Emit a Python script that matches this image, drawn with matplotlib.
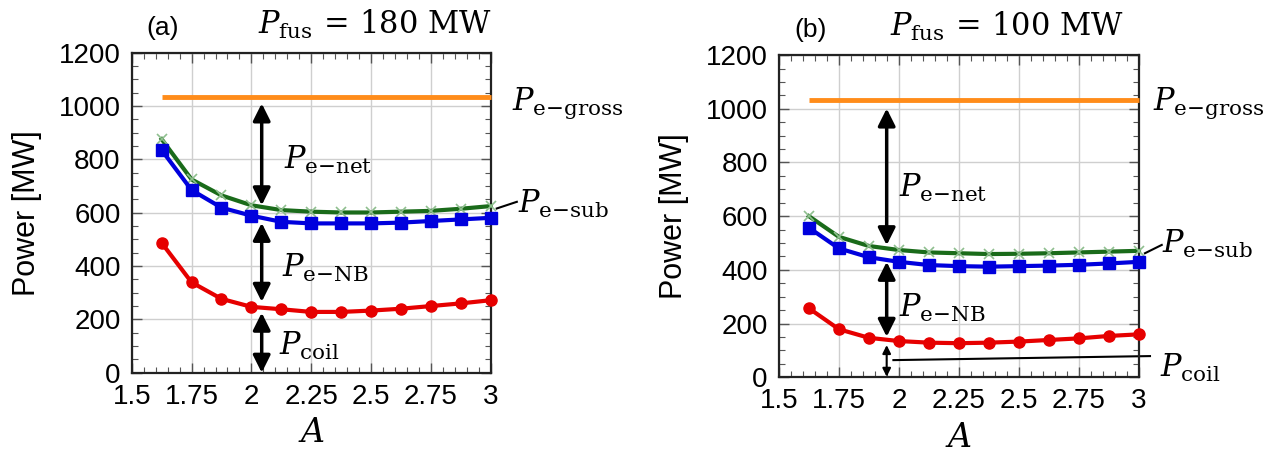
#!/usr/bin/env python3
"""Power balance vs aspect ratio A for two fusion powers."""

import numpy as np
import matplotlib
matplotlib.use("Agg")
import matplotlib.pyplot as plt
from matplotlib.ticker import MultipleLocator

plt.rcParams["font.family"] = ["Liberation Sans", "DejaVu Sans"]
plt.rcParams["mathtext.fontset"] = "dejavuserif"

A_VALUES = [1.625, 1.75, 1.875, 2.0, 2.125, 2.25, 2.375, 2.5, 2.625, 2.75, 2.875, 3.0]

# panel (a): P_fus = 180 MW
GROSS_A = 1035
SUB_A = [876, 725, 665, 628, 610, 604, 601, 601, 604, 607, 615, 625]
NB_A = [835, 685, 619, 589, 566, 560, 560, 560, 563, 569, 575, 581]
COIL_A = [487, 339, 277, 247, 238, 228, 228, 233, 240, 250, 260, 272]

# panel (b): P_fus = 100 MW
GROSS_B = 1032
SUB_B = [600, 523, 489, 474, 465, 462, 459, 460, 462, 465, 468, 471]
NB_B = [557, 480, 447, 430, 418, 414, 412, 414, 416, 419, 424, 430]
COIL_B = [257, 179, 147, 135, 129, 127, 129, 133, 139, 145, 154, 160]

TITLES = ["(a)", "(b)"]
FUS_LABELS = [r"$P_{\mathrm{fus}}\,=\,180\ \mathrm{MW}$", r"$P_{\mathrm{fus}}\,=\,100\ \mathrm{MW}$"]

C_GROSS = "#ff8c1a"
C_SUB = "#1a6b1a"
C_NB = "#0000dd"
C_COIL = "#e60000"


def lab(name):
    return r"$P_{\mathrm{" + name + r"}}$"


def setup_axes(ax):
    ax.set_xlim(1.5, 3.0)
    ax.set_ylim(0, 1200)
    ax.xaxis.set_minor_locator(MultipleLocator(0.05))
    ax.yaxis.set_major_locator(MultipleLocator(200))
    ax.yaxis.set_minor_locator(MultipleLocator(50))
    ticks = [1.5, 1.75, 2.0, 2.25, 2.5, 2.75, 3.0]
    ax.set_xticks(ticks)
    ax.set_xticklabels(["1.5", "1.75", "2", "2.25", "2.5", "2.75", "3"])
    ax.tick_params(which="both", direction="in", top=True, right=True,
                   labelsize=20, color="#555555")
    ax.tick_params(which="major", length=7, width=1.0)
    ax.tick_params(which="minor", length=4, width=0.8)
    ax.tick_params(axis="y", pad=8)
    ax.tick_params(axis="x", pad=8)
    ax.grid(which="major", color="#cfcfcf", linewidth=1.0)
    for s in ax.spines.values():
        s.set_linewidth(1.6)
        s.set_color("#222222")
    ax.set_axisbelow(True)
    ax.set_ylabel("Power [MW]", fontsize=22, labelpad=12)
    ax.set_xlabel(r"$A$", fontsize=24, labelpad=6)


def draw_series(ax, gross, sub, nb, coil):
    ax.plot(A_VALUES, np.full(len(A_VALUES), gross), color=C_GROSS, lw=3.5,
            solid_capstyle="butt", clip_on=False, zorder=3)
    ax.plot(A_VALUES, sub, color=C_SUB, lw=3.0, marker="x", markersize=7,
            markeredgecolor="#8fbf8f", markeredgewidth=1.2, clip_on=False, zorder=4)
    ax.plot(A_VALUES, nb, color=C_NB, lw=3.0, marker="s", markersize=8.5,
            clip_on=False, zorder=4)
    ax.plot(A_VALUES, coil, color=C_COIL, lw=3.0, marker="o", markersize=8,
            clip_on=False, zorder=4)


def arrow(ax, x, y0, y1, big=True):
    if big:
        props = dict(arrowstyle="<|-|>", color="black", lw=2.5, mutation_scale=26,
                     shrinkA=0, shrinkB=0)
    else:
        props = dict(arrowstyle="<|-|>", color="black", lw=1.5, mutation_scale=12,
                     shrinkA=0, shrinkB=0)
    ax.annotate("", xy=(x, y1), xytext=(x, y0), arrowprops=props, zorder=5,
                annotation_clip=False)


fig = plt.figure(figsize=(12.79, 4.59), dpi=100)
ax_a = fig.add_axes([0.103, 0.188, 0.2807, 0.697])
ax_b = fig.add_axes([0.609, 0.178, 0.2815, 0.702])

txt = dict(fontsize=22, va="baseline", ha="left", clip_on=False)

for i, (ax, gross, sub, nb, coil) in enumerate([
        (ax_a, GROSS_A, SUB_A, NB_A, COIL_A),
        (ax_b, GROSS_B, SUB_B, NB_B, COIL_B)]):
    setup_axes(ax)
    draw_series(ax, gross, sub, nb, coil)
    ax.text(0.04 if i == 0 else 0.044, 1.055, TITLES[i], transform=ax.transAxes,
            fontsize=19, va="baseline")
    ax.text(0.352 if i == 0 else 0.308, 1.06, FUS_LABELS[i], transform=ax.transAxes,
            fontsize=22, va="baseline")

# panel (a) annotations
arrow(ax_a, 2.043, 1010, 628)
arrow(ax_a, 2.043, 562, 266)
arrow(ax_a, 2.043, 225, 0)
ax_a.text(3.089, 985, lab("e{-}gross"), **txt)
ax_a.text(3.115, 598, lab("e{-}sub"), **txt)
ax_a.plot([3.025, 3.109], [616, 641], color="black", lw=1.5, clip_on=False)
ax_a.text(2.137, 766, lab("e{-}net"), **txt)
ax_a.text(2.127, 360, lab("e{-}NB"), **txt)
ax_a.text(2.117, 66, lab("coil"), **txt)

# panel (b) annotations
arrow(ax_b, 1.949, 1001, 492)
arrow(ax_b, 1.949, 430, 151)
arrow(ax_b, 1.949, 120, 2, big=False)
ax_b.text(3.058, 995, lab("e{-}gross"), **txt)
ax_b.text(3.095, 462, lab("e{-}sub"), **txt)
ax_b.plot([3.025, 3.095], [462, 493], color="black", lw=1.5, clip_on=False)
ax_b.text(2.001, 672, lab("e{-}net"), **txt)
ax_b.text(2.0, 226, lab("e{-}NB"), **txt)
ax_b.plot([1.977, 3.046], [64, 79], color="black", lw=1.5, clip_on=False)
ax_b.text(3.088, 2, lab("coil"), **txt)

fig.savefig("out.png", dpi=100)
